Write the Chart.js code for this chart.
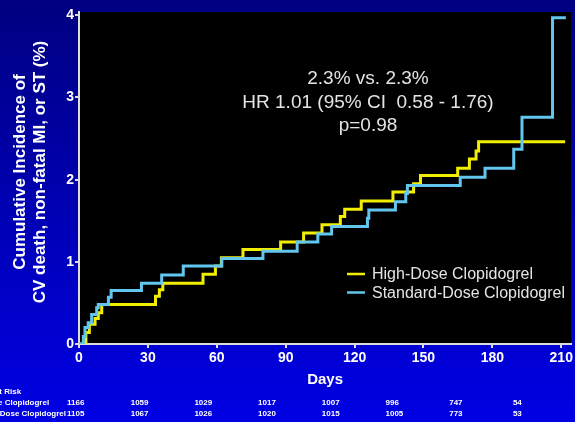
<!DOCTYPE html>
<html>
<head>
<meta charset="utf-8">
<script src="https://cdn.jsdelivr.net/npm/chart.js@4.4.1/dist/chart.umd.min.js"></script>
<style>
  html, body { margin: 0; padding: 0; background: #0000b4; overflow: hidden; }
  canvas { display: block; }
</style>
</head>
<body>
<canvas id="km" width="575" height="422"></canvas>
<script>
// Kaplan-Meier style cumulative incidence, two clopidogrel dosing arms
const seriesNames = ['High-Dose Clopidogrel', 'Standard-Dose Clopidogrel'];

// event days and cumulative incidence (%) after each step
const highDays = [0, 3, 4.5, 7, 8.4, 9.9, 33.3, 35, 36.5, 54, 59.4, 62, 71.4, 87.8, 97.8, 105.8, 113.8, 115.7, 122.9, 136.7, 145.7, 148.7, 164.9, 170, 172.9, 174, 211.7];
const highPct  = [0, 0.14, 0.24, 0.31, 0.38, 0.48, 0.58, 0.66, 0.74, 0.85, 0.95, 1.05, 1.15, 1.24, 1.35, 1.45, 1.55, 1.64, 1.74, 1.85, 1.95, 2.05, 2.14, 2.25, 2.35, 2.46, 2.46];

const stdDays = [0, 1.9, 2.6, 4, 5.5, 7.7, 8.4, 12.8, 14, 27.2, 36, 45.4, 62.2, 80.1, 95, 104, 110, 125.6, 126.2, 137.8, 142.3, 143, 166, 176.8, 189.3, 192.9, 206.2, 212];
const stdPct  = [0, 0.09, 0.2, 0.26, 0.36, 0.44, 0.48, 0.57, 0.65, 0.74, 0.84, 0.95, 1.04, 1.13, 1.24, 1.34, 1.43, 1.53, 1.63, 1.73, 1.83, 1.93, 2.03, 2.14, 2.37, 2.76, 3.97, 3.97];

const xTicks = [0, 30, 60, 90, 120, 150, 180, 210];
const yTicks = [0, 1, 2, 3, 4];

// patients at risk under the axis
const riskTitle = 'Number at Risk';
const riskHigh = ['1166', '1059', '1029', '1017', '1007', '996', '747', '54'];
const riskStd  = ['1105', '1067', '1026', '1020', '1015', '1005', '773', '53'];

const statLines = ['2.3% vs. 2.3%', 'HR 1.01 (95% CI  0.58 - 1.76)', 'p=0.98'];
const yTitleLines = ['Cumulative Incidence of', 'CV death, non-fatal MI, or ST (%)'];

const YELLOW = '#f2ee00';
const BLUE = '#62c6ee';
const AXIS = '#dcdcdc';
const FONT = '"Liberation Sans", Arial, Helvetica, sans-serif';

const toPoints = (days, vals) => days.map((d, i) => ({ x: d, y: vals[i] }));

const backdrop = {
  id: 'backdrop',
  beforeDraw(chart) {
    const { ctx, chartArea: a, width, height } = chart;
    ctx.save();
    const g = ctx.createLinearGradient(0, 0, 0, height);
    g.addColorStop(0, '#000080');
    g.addColorStop(0.5, '#0000b4');
    g.addColorStop(1, '#0000e4');
    ctx.fillStyle = g;
    ctx.fillRect(0, 0, width, height);
    ctx.fillStyle = '#000000';
    ctx.fillRect(a.left, a.top, a.right - a.left, a.bottom - a.top);
    ctx.restore();
  }
};

const overlay = {
  id: 'overlay',
  afterDraw(chart) {
    const { ctx } = chart;
    ctx.save();

    // statistics box
    ctx.fillStyle = '#e4e4e4';
    ctx.textAlign = 'center';
    ctx.textBaseline = 'middle';
    ctx.font = '19px ' + FONT;
    statLines.forEach((t, i) => ctx.fillText(t, 368, 79 + i * 23.5));

    // legend
    const colors = [YELLOW, BLUE];
    ctx.font = '16px ' + FONT;
    ctx.textAlign = 'left';
    seriesNames.forEach((name, i) => {
      const y = 274 + i * 18.5;
      ctx.strokeStyle = colors[i];
      ctx.lineWidth = 2.5;
      ctx.beginPath();
      ctx.moveTo(347, y);
      ctx.lineTo(365, y);
      ctx.stroke();
      ctx.fillStyle = '#e4e4e4';
      ctx.fillText(name, 372, y + 1);
    });

    // y axis title, rotated
    ctx.fillStyle = '#ffffff';
    ctx.font = 'bold 17px ' + FONT;
    ctx.textAlign = 'center';
    yTitleLines.forEach((t, i) => {
      ctx.save();
      ctx.translate(20 + i * 20, 172);
      ctx.rotate(-Math.PI / 2);
      ctx.fillText(t, 0, 0);
      ctx.restore();
    });

    // number at risk table
    ctx.font = 'bold 8px ' + FONT;
    ctx.textAlign = 'left';
    const labelX = 68 - ctx.measureText(seriesNames[1]).width - 2;
    ctx.fillText(riskTitle, labelX, 392);
    [riskHigh, riskStd].forEach((row, r) => {
      const y = 403 + r * 10.5;
      ctx.fillText(seriesNames[r], labelX, y);
      row.forEach((v, i) => ctx.fillText(v, 67 + i * 63.7, y));
    });

    ctx.restore();
  }
};

new Chart(document.getElementById('km'), {
  type: 'line',
  data: {
    datasets: [
      { label: seriesNames[0], data: toPoints(highDays, highPct), borderColor: YELLOW,
        borderWidth: 3, stepped: 'before', pointRadius: 0, fill: false, order: 1 },
      { label: seriesNames[1], data: toPoints(stdDays, stdPct), borderColor: BLUE,
        borderWidth: 3, stepped: 'before', pointRadius: 0, fill: false, order: 0 }
    ]
  },
  options: {
    responsive: false,
    animation: false,
    devicePixelRatio: 1,
    layout: { padding: { top: 12, right: 3, left: 0, bottom: 0 } },
    plugins: { legend: { display: false }, tooltip: { enabled: false } },
    scales: {
      x: {
        type: 'linear', min: 0, max: 214.3,
        afterBuildTicks: s => { s.ticks = xTicks.map(v => ({ value: v })); },
        afterFit: s => { s.height = 78; },
        border: { color: AXIS, width: 2 },
        grid: { drawOnChartArea: false, tickLength: 4, color: AXIS, lineWidth: 2 },
        ticks: { color: '#ffffff', padding: 2, maxRotation: 0, autoSkip: false,
                 font: { family: FONT, size: 14, weight: 'bold' } },
        title: { display: true, text: 'Days', color: '#ffffff',
                 font: { family: FONT, size: 15, weight: 'bold' }, padding: { top: 0, bottom: 33 } }
      },
      y: {
        type: 'linear', min: 0, max: 4.04,
        afterBuildTicks: s => { s.ticks = yTicks.map(v => ({ value: v })); },
        afterFit: s => { s.width = 79; },
        border: { color: AXIS, width: 2 },
        grid: { drawOnChartArea: false, tickLength: 4, color: AXIS, lineWidth: 2 },
        ticks: { color: '#ffffff', padding: 1,
                 font: { family: FONT, size: 14, weight: 'bold' } }
      }
    }
  },
  plugins: [backdrop, overlay]
});
</script>
</body>
</html>
